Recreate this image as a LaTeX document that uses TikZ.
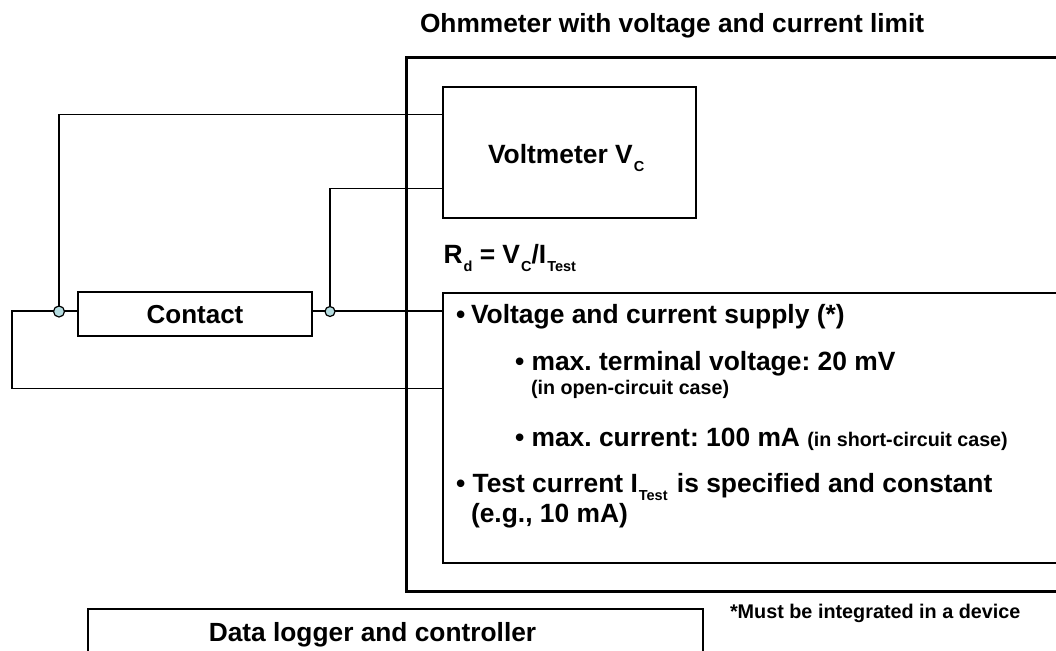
\documentclass[tikz,border=0pt]{standalone}
\usepackage{fontspec}
\setmainfont{Liberation Sans}
\usetikzlibrary{calc}
\definecolor{jfill}{HTML}{B5DCE0}
\newcommand{\fs}[1]{\fontsize{#1}{#1}\selectfont\bfseries\frenchspacing}
\newcommand{\subx}[1]{\hspace{1pt}\raisebox{-8.3pt}{\fontsize{14.5}{14.5}\selectfont\bfseries #1}}
\tikzset{
  x=1pt,y=-1pt,
  wire/.style={draw=black,line width=1.2pt},
  box/.style={draw=black,line width=1.2pt,fill=white,rectangle,inner sep=0pt,outer sep=0pt},
  thickbox/.style={draw=black,line width=3pt,rectangle,inner sep=0pt,outer sep=0pt},
  junction/.style={circle,draw=black,line width=1.2pt,fill=jfill,inner sep=0pt,minimum size=11pt},
  txt/.style={anchor=base west,inner sep=0pt,outer sep=0pt,text=black},
  ctr/.style={anchor=base,inner sep=0pt,outer sep=0pt,text=black}
}
\begin{document}
\begin{tikzpicture}
\useasboundingbox (0,0) rectangle (1056,650);
\clip (0,0) rectangle (1056,650);
\fill[white] (0,0) rectangle (1056,650);
% boxes (open sides run past the page)
\node[thickbox,minimum width=684pt,minimum height=533pt,anchor=north west] (ohm) at (406,58) {};
\node[box,minimum width=253pt,minimum height=131pt,anchor=north west] (volt) at (443,87) {};
\node[box,minimum width=640pt,minimum height=270pt,anchor=north west] (supply) at (443,293) {};
\node[box,minimum width=234pt,minimum height=44pt,anchor=north west] (contact) at (78,292) {};
\node[box,minimum width=615pt,minimum height=80pt,anchor=north west] (logger) at (88,609) {};
% wire end points
\coordinate (v1) at (443,114.5);
\coordinate (v2) at (443,188.5);
\coordinate (s1) at (443,311);
\coordinate (s2) at (443,388.5);
\coordinate (c1) at (78,311);
\coordinate (c2) at (312,311);
\coordinate (lt) at (12,311);
\coordinate (lb) at (12,388.5);
\coordinate (j1p) at (59,311);
\coordinate (j2p) at (330,311);
% connectors
\draw[wire] (j1p) |- (v1);
\draw[wire] (j2p) |- (v2);
\draw[wire] (c1) -- (j1p) -- (lt) -- (lb) -- (s2);
\draw[wire] (c2) -- (s1);
% junctions
\node[junction] (j1) at (59,311.5) {};
\node[junction,minimum size=10pt] (j2) at (330,311.5) {};
% texts
\node[txt] (title) at (420,33) {\fs{26.3}Ohmmeter with voltage and current limit};
\node[txt] (tv) at (488,163) {\fs{26.4}Voltmeter V\subx{C}};
\node[txt] (rd) at (443.5,263) {\fs{26.4}R\subx{d} = V\subx{C}/I\subx{Test}};
\node[ctr] (tc) at (195,323) {\fs{26}Contact};
\node[txt] (a1) at (456,323) {\fs{26.4}•\hspace{-1.5pt} Voltage and current supply (*)};
\node[txt] (a2) at (515,370) {\fs{26.4}• max. terminal voltage: 20 mV};
\node[txt] (a3) at (531,394) {\fs{19.7}(in open-circuit case)};
\node[txt] (a4) at (515,446) {\fs{26.4}• max. current: 100 mA {\fs{19.7}(in short-circuit case)}};
\node[txt] (a5) at (456,492) {\fs{26.4}• Test current I\subx{Test}\hspace{2pt} is specified and constant};
\node[txt] (a6) at (471,522) {\fs{26.4}(e.g., 10 mA)};
\node[txt] (foot) at (730,618) {\fs{19.8}*Must be integrated in a device};
\node[ctr] (tl) at (372.5,641) {\fs{26.3}Data logger and controller};
\end{tikzpicture}
\end{document}
